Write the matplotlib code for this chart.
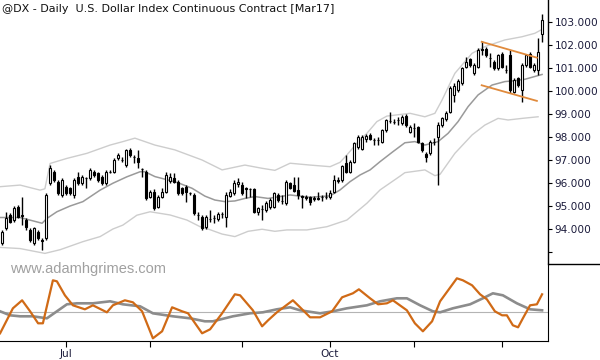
import numpy as np
import matplotlib.pyplot as plt
from matplotlib.lines import Line2D

# daily bars, @DX Mar17 (Jun - Dec 2016)
opens = [93.38, 94.03, 94.61, 94.39, 94.97, 94.60, 94.39, 93.96, 93.38, 93.88,
         93.52, 93.59, 95.99, 96.49, 96.06, 95.48, 95.84, 95.77, 95.48, 96.27,
         95.99, 96.20, 96.20, 96.49, 96.42, 96.27, 95.99, 96.49, 96.49, 97.07,
         97.00, 96.78, 97.43, 97.14, 97.07, 96.60, 96.49, 95.41, 95.62, 94.97,
         95.41, 95.62, 96.07, 96.20, 96.06, 95.77, 95.84, 95.55, 95.48, 94.60,
         94.54, 94.07, 94.42, 94.46, 94.42, 94.65, 94.54, 95.45, 95.55, 95.95,
         95.91, 95.77, 95.72, 95.72, 94.75, 94.85, 94.83, 94.94, 94.97, 95.48,
         95.23, 95.12, 95.99, 95.91, 95.70, 95.42, 95.38, 95.38, 95.30, 95.30,
         95.38, 95.41, 95.38, 95.63, 96.10, 96.13, 96.86, 96.49, 96.93, 97.58,
         97.50, 97.90, 98.09, 97.86, 97.86, 97.80, 98.30, 98.71, 98.66, 98.74,
         98.59, 98.91, 98.23, 98.38, 98.42, 97.72, 97.26, 97.29, 97.80, 98.00,
         98.52, 98.77, 99.10, 99.83, 100.04, 100.33, 101.06, 101.38, 100.77, 101.06,
         101.81, 101.81, 101.42, 101.27, 100.99, 101.61, 100.91, 101.56, 99.97, 100.55,
         100.04, 101.13, 101.63, 100.91, 100.91, 102.48]
highs = [93.95, 94.75, 94.68, 95.00, 95.04, 95.40, 94.46, 94.03, 94.10, 93.95,
         93.59, 95.55, 96.78, 96.55, 96.13, 96.20, 95.90, 95.84, 96.20, 96.49,
         96.35, 96.27, 96.64, 96.56, 96.49, 96.35, 96.56, 96.56, 97.07, 97.29,
         97.14, 97.50, 97.51, 97.22, 97.44, 96.64, 96.55, 95.70, 95.72, 95.50,
         95.77, 96.50, 96.42, 96.42, 96.13, 95.84, 95.91, 95.62, 95.55, 94.75,
         94.60, 94.60, 94.83, 94.60, 94.72, 94.75, 95.60, 95.72, 96.13, 96.20,
         96.06, 95.84, 95.80, 95.80, 94.97, 95.04, 95.20, 95.33, 95.62, 95.55,
         95.48, 96.13, 96.06, 96.28, 96.28, 95.50, 95.50, 95.42, 95.45, 95.62,
         95.48, 95.62, 95.70, 96.35, 96.25, 96.80, 97.22, 97.00, 97.80, 98.08,
         98.10, 98.12, 98.16, 97.94, 98.00, 98.36, 98.80, 99.10, 98.77, 98.88,
         98.95, 98.98, 98.52, 98.60, 98.50, 97.80, 97.33, 97.87, 97.94, 98.67,
         98.88, 99.13, 100.20, 100.33, 100.52, 101.06, 101.50, 101.45, 101.20, 101.85,
         102.19, 101.90, 101.67, 101.34, 101.63, 101.68, 101.13, 101.78, 100.55, 100.62,
         101.20, 101.63, 101.70, 101.20, 102.29, 103.35]
lows = [93.30, 93.96, 94.25, 94.32, 94.46, 94.17, 93.96, 93.45, 93.30, 93.52,
        93.09, 93.52, 95.91, 96.05, 95.48, 95.40, 95.48, 95.48, 95.33, 95.91,
        95.91, 95.77, 96.13, 96.27, 96.06, 95.91, 95.91, 96.42, 96.42, 97.00,
        96.93, 96.71, 97.14, 96.85, 96.64, 96.28, 95.25, 95.33, 94.83, 94.90,
        95.33, 95.55, 95.99, 95.99, 95.48, 95.48, 95.19, 95.48, 94.60, 94.39,
        93.96, 94.00, 94.32, 94.25, 94.35, 94.46, 94.10, 95.38, 95.48, 95.84,
        95.48, 95.33, 95.41, 94.68, 94.60, 94.39, 94.75, 94.88, 94.90, 95.19,
        95.10, 95.05, 95.75, 95.60, 95.30, 94.90, 95.26, 95.05, 95.20, 95.26,
        95.23, 95.30, 95.30, 95.55, 95.99, 96.06, 96.42, 96.42, 96.86, 97.50,
        97.45, 97.80, 97.86, 97.65, 97.65, 97.72, 98.22, 98.60, 98.56, 98.52,
        98.52, 98.45, 98.16, 98.00, 97.72, 97.36, 96.93, 97.22, 97.65, 95.91,
        98.45, 98.70, 99.03, 99.54, 99.97, 100.26, 100.99, 101.06, 100.70, 100.99,
        101.57, 101.50, 101.06, 100.92, 100.92, 100.99, 100.77, 99.90, 99.90, 100.19,
        99.54, 101.06, 100.99, 100.84, 100.70, 102.15]
closes = [93.88, 94.46, 94.32, 94.90, 94.54, 94.55, 94.10, 93.52, 94.03, 93.59,
          93.50, 95.48, 96.64, 96.13, 95.55, 96.13, 95.55, 95.55, 96.13, 95.99,
          96.27, 96.20, 96.56, 96.35, 96.13, 95.99, 96.49, 96.50, 97.00, 97.22,
          97.00, 97.43, 97.22, 97.14, 96.93, 96.59, 95.33, 95.62, 94.90, 95.41,
          95.62, 96.35, 96.28, 96.06, 95.55, 95.55, 95.62, 95.55, 94.68, 94.62,
          94.03, 94.51, 94.42, 94.46, 94.65, 94.65, 95.48, 95.62, 96.00, 96.06,
          95.55, 95.72, 95.72, 94.75, 94.90, 94.85, 95.12, 95.26, 95.55, 95.26,
          95.23, 96.06, 95.80, 95.67, 95.50, 95.40, 95.36, 95.19, 95.33, 95.33,
          95.38, 95.41, 95.58, 96.13, 96.13, 96.74, 96.49, 96.93, 97.73, 97.99,
          98.02, 98.05, 97.90, 97.86, 97.86, 98.30, 98.74, 98.71, 98.66, 98.74,
          98.88, 98.52, 98.45, 98.38, 97.80, 97.44, 97.15, 97.80, 97.80, 98.52,
          98.81, 99.06, 100.12, 100.22, 100.45, 100.99, 101.27, 101.13, 101.13, 101.78,
          101.80, 101.57, 101.42, 100.99, 101.56, 101.06, 100.91, 100.04, 100.48, 100.26,
          101.13, 101.56, 101.06, 101.13, 101.70, 103.09]

# channel lines (bar index, price)
mid_x = [-0.4, 4.6, 10.1, 11.3, 13.8, 17.1, 20.3, 24.6, 27.8, 31.3, 34.6, 35.8, 38.3,
         41.6, 44.1, 47.6, 50.8, 53.3, 55.8, 58.3, 60.8, 63.3, 66.6, 72.1, 77.1, 82.1,
         84.6, 87.1, 89.6, 92.1, 94.6, 97.8, 100.8, 103.3, 105.8, 109.1, 111.6, 114.1,
         116.6, 119.1, 122.6, 125.8, 128.3, 130.8, 135.1]
mid_y = [94.50, 94.50, 94.25, 94.46, 94.75, 95.00, 95.19, 95.69, 95.99, 96.27, 96.49,
         96.49, 96.28, 96.13, 96.01, 95.77, 95.43, 95.26, 95.19, 95.22, 95.33, 95.41,
         95.33, 95.48, 95.38, 95.44, 95.70, 96.06, 96.35, 96.57, 96.93, 97.36, 97.75,
         97.80, 97.65, 97.80, 98.16, 98.67, 99.32, 99.83, 100.26, 100.41, 100.45,
         100.51, 100.72]
upper_x = [-0.4, 4.6, 9.6, 10.8, 12.1, 16.3, 21.3, 27.1, 30.3, 33.3, 38.3, 43.3, 50.1,
           55.1, 60.8, 65.1, 68.3, 72.1, 77.1, 82.1, 84.6, 86.3, 88.8, 91.3, 93.8, 96.3,
           102.1, 105.8, 108.3, 110.1, 113.3, 117.6, 120.8, 125.8, 130.1, 133.3, 135.1]
upper_y = [95.84, 95.91, 95.69, 95.75, 96.85, 97.07, 97.29, 97.65, 97.80, 97.95, 97.65,
           97.44, 97.00, 96.57, 96.78, 96.64, 96.55, 96.86, 96.78, 96.71, 96.90, 97.22,
           97.73, 98.16, 98.67, 98.91, 99.03, 98.88, 99.03, 99.61, 100.77, 101.64,
           101.93, 102.22, 102.36, 102.51, 102.68]
lower_x = [-0.4, 4.6, 10.8, 14.6, 20.3, 24.6, 27.8, 30.3, 33.8, 37.1, 42.1, 46.3, 49.6,
           51.6, 55.1, 58.3, 61.6, 65.1, 68.3, 71.3, 76.3, 81.3, 86.3, 91.3, 94.6, 99.6,
           100.8, 105.8, 108.3, 109.6, 113.3, 117.6, 120.8, 124.1, 126.6, 130.1, 134.1]
lower_y = [93.20, 93.15, 92.94, 93.10, 93.45, 93.67, 94.00, 94.17, 94.60, 94.75, 94.61,
           94.39, 94.10, 94.00, 93.78, 93.67, 93.90, 93.99, 93.90, 93.96, 93.96, 94.10,
           94.39, 95.12, 95.70, 96.30, 96.45, 96.57, 96.32, 96.38, 97.29, 98.09, 98.52,
           98.81, 98.74, 98.81, 98.88]

# flag lines
flag_x = [120, 133.8]
flag_upper = [102.14, 101.45]
flag_lower = [100.25, 99.57]

# oscillator panel
osc_x = [-0.4, 2.8, 5.1, 7.1, 9.1, 10.3, 12.8, 13.8, 15.8, 17.8, 20.8, 22.8, 26.3, 27.8,
         30.8, 32.8, 35.1, 37.8, 40.1, 42.6, 45.1, 46.6, 50.1, 52.1, 55.1, 58.3, 59.6,
         62.8, 65.1, 66.6, 68.8, 72.8, 74.6, 77.1, 79.6, 82.6, 85.1, 87.8, 89.3, 92.1,
         94.1, 96.3, 97.8, 101.3, 103.3, 105.3, 107.6, 109.6, 113.8, 115.3, 117.6, 119.6,
         121.3, 123.3, 125.1, 126.3, 127.8, 129.1, 130.3, 132.1, 133.8, 135.1]
osc_y = [-2.1, 0.4, 1.2, 0.1, -1.1, -1.1, 3.2, 3.1, 1.7, 0.7, 0.3, 0.7, 0.0, 0.7,
         1.2, 1.0, 0.1, -2.6, -1.9, 0.5, 0.1, -0.1, -2.1, -1.7, -0.1, 1.8, 1.7,
         0.2, -1.4, -0.8, 0.0, 1.2, 0.5, -0.5, -0.5, 0.1, 1.5, 1.9, 2.3, 1.4,
         0.8, 0.9, 1.2, 0.2, -1.1, -1.9, -0.9, 1.1, 3.4, 3.2, 2.7, 1.8,
         1.3, 0.1, -0.3, -0.3, -1.3, -1.5, -0.6, 0.7, 0.8, 1.8]
sig_x = [-0.4, 2.1, 4.6, 7.8, 11.3, 13.8, 16.3, 18.8, 22.8, 27.1, 30.3, 34.6, 37.8, 42.8,
         47.1, 50.8, 52.8, 57.8, 62.1, 65.3, 68.8, 72.1, 74.6, 79.6, 82.8, 86.3, 91.3,
         94.6, 98.8, 101.3, 104.6, 107.8, 109.6, 112.8, 117.1, 120.3, 122.8, 125.3,
         128.8, 132.1, 135.1]
sig_y = [0.1, -0.3, -0.4, -0.4, -0.6, 0.1, 0.8, 0.9, 0.9, 1.1, 0.8, 0.6, -0.1, -0.4,
         -0.6, -0.9, -0.9, -0.4, -0.1, 0.0, 0.3, 0.5, 0.2, -0.1, 0.1, 0.4, 0.7,
         1.1, 1.4, 1.4, 0.7, 0.1, 0.0, 0.4, 0.8, 1.4, 1.9, 1.7, 0.9, 0.3, 0.2]

month_ticks = [16, 37, 60, 82, 103, 125]
month_labels = ['Jul', '', '', 'Oct', '', '']
price_ticks = [93, 94, 95, 96, 97, 98, 99, 100, 101, 102, 103]

label_color = '#1c1c3c'

fig = plt.figure(figsize=(6, 3.6), dpi=100)
ax = fig.add_axes([0, 0.2658, 0.9138, 0.7342])
ax2 = fig.add_axes([0, 0.0536, 0.9138, 0.2122], sharex=ax)

# bands
ax.plot(upper_x, upper_y, color='#cdcdcd', lw=1.0, zorder=1)
ax.plot(lower_x, lower_y, color='#cdcdcd', lw=1.0, zorder=1)
ax.plot(mid_x, mid_y, color='#9a9a9a', lw=1.1, zorder=1)

# candles
idx = np.arange(len(closes))
o = np.array(opens)
c = np.array(closes)
up = c >= o
ax.vlines(idx, lows, highs, color='black', lw=1.0, zorder=2)
ax.bar(idx[up], (c - o)[up], bottom=o[up], width=0.5,
       facecolor='white', edgecolor='black', lw=0.8, zorder=3)
ax.bar(idx[~up], (o - c)[~up], bottom=c[~up], width=0.5,
       facecolor='black', edgecolor='black', lw=0.8, zorder=3)

ax.plot(flag_x, flag_upper, color='#e08a3c', lw=1.3, zorder=4)
ax.plot(flag_x, flag_lower, color='#e08a3c', lw=1.3, zorder=4)

ax.set_xlim(-0.425, 136.65)
ax.set_ylim(92.465, 103.957)
for s in ['left', 'top', 'bottom']:
    ax.spines[s].set_visible(False)
ax.spines['right'].set_linewidth(1.0)
ax.yaxis.tick_right()
ax.set_yticks(price_ticks)
ax.set_yticklabels(['' if p == 93 else '%.3f' % p for p in price_ticks])
ax.tick_params(axis='y', direction='out', length=3, width=0.8, pad=1.5,
               labelsize=7.6, labelcolor=label_color)
ax.tick_params(axis='x', bottom=False, labelbottom=False)

# oscillator
ax2.axhline(0, color='#b4b4b4', lw=0.8, zorder=1)
ax2.plot(sig_x, sig_y, color='#8c8c8c', lw=1.9, zorder=2)
ax2.plot(osc_x, osc_y, color='#d06a16', lw=1.6, zorder=3)
ax2.set_ylim(-2.84, 4.8)
for s in ['left', 'top']:
    ax2.spines[s].set_visible(False)
ax2.set_yticks([])
ax2.set_xticks(month_ticks)
ax2.set_xticklabels(month_labels)
ax2.tick_params(axis='x', direction='out', length=4, width=0.8, pad=2,
                labelsize=7.6, labelcolor=label_color)

# panel separator on the scale side
fig.add_artist(Line2D([0.9138, 1.0], [0.2658, 0.2658], color='black', lw=1.0))

fig.text(2 / 600, 1 - 9 / 360, '@DX - Daily  U.S. Dollar Index Continuous Contract [Mar17]',
         fontsize=8, color='#111111', va='center', ha='left')
fig.text(10 / 600, 1 - 269 / 360, 'www.adamhgrimes.com', family='Liberation Sans',
         fontsize=10.5, color='#a0a0a0', va='center', ha='left')

fig.savefig('out.png', dpi=100)
